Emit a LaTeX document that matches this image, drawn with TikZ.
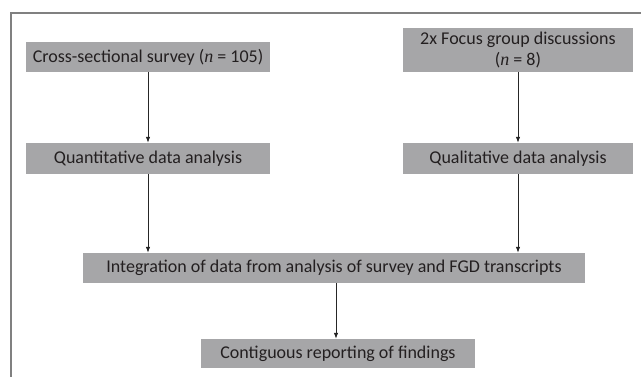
\documentclass[tikz,border=0pt]{standalone}
\usepackage{fontspec}
\setmainfont{Carlito}
\newfontfamily\nfont{Liberation Serif}
\usepackage{xcolor}
\usetikzlibrary{
    calc,
    arrows.meta,
    positioning
}
\definecolor{boxgray}{RGB}{166,166,168}
\definecolor{txtgray}{RGB}{35,31,32}
\definecolor{framegray}{RGB}{128,128,128}
\newcommand{\nn}{{\nfont\itshape n}}
\tikzset{
    stagebox/.style={fill=boxgray,text=txtgray,inner sep=0pt,
        font=\fontsize{18}{21}\selectfont,align=center},
    flow/.style={-{Latex[length=6pt,width=4.5pt]},line width=0.8pt,draw=black!85}
}

\begin{document}
\begin{tikzpicture}[x=1pt,y=-1pt]
        \useasboundingbox (0,0) rectangle (641,376);
        \draw[framegray,line width=1.5pt] (645,13) -- (11,13) -- (11,380);

        \node[stagebox,minimum width=244pt,minimum height=30pt] (svy) at (148,57)
            {Cross-sectional survey (\nn{} = 105)};
        \node[stagebox,minimum width=230pt,minimum height=44pt] (fgd) at (518,50)
            {2x Focus group discussions\\(\nn{} = 8)};
        \node[stagebox,minimum width=244pt,minimum height=31pt] (quant) at (148,158.5)
            {Quantitative data analysis};
        \node[stagebox,minimum width=230pt,minimum height=31pt] (qual) at (518,158.5)
            {Qualitative data analysis};
        \node[stagebox,minimum width=502pt,minimum height=30pt] (integ) at (334,268)
            {Integration of data from analysis of survey and FGD transcripts};
        \node[stagebox,minimum width=274pt,minimum height=29pt] (report) at (338,353.5)
            {Contiguous reporting of findings};

        \draw[flow] (svy) -- (quant);
        \draw[flow] (fgd) -- (qual);
        \draw[flow] (quant.south) -- (quant.south |- integ.north);
        \draw[flow] (qual.south) -- (qual.south |- integ.north);
        \draw[flow] ($(integ.south)+(2,0)$) -- ($(report.north)+(-2,0)$);
    \end{tikzpicture}
\end{document}
